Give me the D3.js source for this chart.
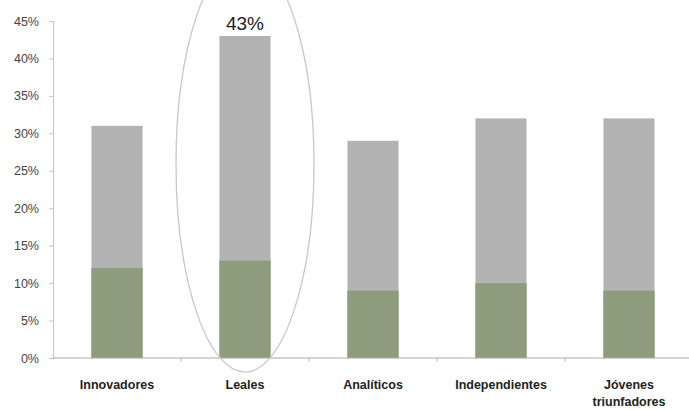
<!DOCTYPE html>
<html>
<head>
<meta charset="utf-8">
<script src="https://cdn.jsdelivr.net/npm/d3@7"></script>
<style>
  body { margin: 0; background: #fff; }
  svg { display: block; font-family: "Liberation Sans", Arial, sans-serif; }
</style>
</head>
<body>
<div id="chart"></div>
<script>
// segmentos y porcentajes
const categories = ['Innovadores', 'Leales', 'Analíticos', 'Independientes', 'Jóvenes triunfadores'];
const totalValues = [31, 43, 29, 32, 32];
const greenValues = [12, 13, 9, 10, 9];
const yTicks = [0, 5, 10, 15, 20, 25, 30, 35, 40, 45];
const highlightLabel = '43%';

const width = 689, height = 410;
const margin = {top: 21, right: -4, bottom: 52, left: 53};

const svg = d3.select('#chart')
    .append('svg')
    .attr('width', width)
    .attr('height', height);

const x = d3.scaleBand()
    .domain(categories)
    .range([margin.left, width - margin.right])
    .paddingInner(0.6)
    .paddingOuter(0.3);

const y = d3.scaleLinear()
    .domain([0, 45])
    .range([height - margin.bottom, margin.top]);

// barras grises (total)
svg.append('g')
    .selectAll('rect')
    .data(categories)
    .join('rect')
    .attr('x', d => x(d))
    .attr('y', (d, i) => y(totalValues[i]))
    .attr('width', x.bandwidth())
    .attr('height', (d, i) => y(0) - y(totalValues[i]))
    .attr('fill', '#b3b3b3');

// parte verde
svg.append('g')
    .selectAll('rect')
    .data(categories)
    .join('rect')
    .attr('x', d => x(d))
    .attr('y', (d, i) => y(greenValues[i]))
    .attr('width', x.bandwidth())
    .attr('height', (d, i) => y(0) - y(greenValues[i]))
    .attr('fill', '#8c9c7c');

// eje y
const yAxis = svg.append('g')
    .attr('transform', `translate(${margin.left},0)`)
    .call(d3.axisLeft(y).tickValues(yTicks).tickFormat(d => d + '%').tickSize(4).tickPadding(10));
yAxis.selectAll('path, line').attr('stroke', '#c4c4c4');
yAxis.selectAll('text').attr('font-size', 12.5).attr('fill', '#444').attr('font-family', '"Liberation Sans", Arial, sans-serif');

// eje x
const step = x.step();
const boundaries = categories.map((d, i) => x(d) - (step - x.bandwidth()) / 2).concat([x(categories[4]) + x.bandwidth() + (step - x.bandwidth()) / 2]);
svg.append('line')
    .attr('x1', margin.left).attr('x2', width)
    .attr('y1', y(0)).attr('y2', y(0))
    .attr('stroke', '#aaa');
svg.append('g')
    .selectAll('line')
    .data(boundaries.slice(1))
    .join('line')
    .attr('x1', d => d).attr('x2', d => d)
    .attr('y1', y(0)).attr('y2', y(0) + 4)
    .attr('stroke', '#bbb');

// etiquetas de categoria
const labels = svg.append('g')
    .selectAll('text')
    .data(categories)
    .join('text')
    .attr('x', d => x(d) + x.bandwidth() / 2)
    .attr('y', y(0) + 31)
    .attr('text-anchor', 'middle')
    .attr('font-size', 12.5)
    .attr('font-weight', 'bold')
    .attr('fill', '#222');
labels.each(function(d) {
    const words = d === 'Jóvenes triunfadores' ? ['Jóvenes', 'triunfadores'] : [d];
    const t = d3.select(this);
    words.forEach((w, k) => {
        t.append('tspan')
            .attr('x', x(d) + x.bandwidth() / 2)
            .attr('dy', k === 0 ? 0 : 17)
            .text(w);
    });
});

// elipse destacando Leales
const lx = x('Leales') + x.bandwidth() / 2;
svg.append('ellipse')
    .attr('cx', lx)
    .attr('cy', y(25.9))
    .attr('rx', 69)
    .attr('ry', 208)
    .attr('fill', 'none')
    .attr('stroke', '#c8c8c8')
    .attr('stroke-width', 1.3);

svg.append('text')
    .attr('x', lx)
    .attr('y', y(43) - 6)
    .attr('text-anchor', 'middle')
    .attr('font-size', 19)
    .attr('fill', '#222')
    .text(highlightLabel);
</script>
</body>
</html>
